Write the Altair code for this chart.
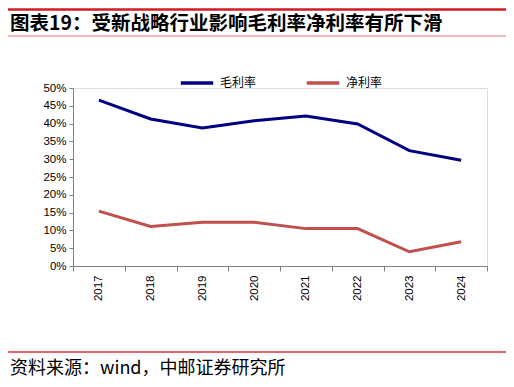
import altair as alt
import pandas as pd

years = ["2017", "2018", "2019", "2020", "2021", "2022", "2023", "2024"]
gross_margin = [0.466, 0.413, 0.388, 0.408, 0.421, 0.399, 0.324, 0.297]
net_margin = [0.154, 0.111, 0.123, 0.123, 0.105, 0.105, 0.040, 0.068]
series_names = ["毛利率", "净利率"]
series_colors = ["#000080", "#C0504D"]
y_ticks = [0, 0.05, 0.10, 0.15, 0.20, 0.25, 0.30, 0.35, 0.40, 0.45, 0.50]
title_text = "图表19：受新战略行业影响毛利率净利率有所下滑"
source_text = "资料来源：wind，中邮证券研究所"

rows = []
for name, vals in zip(series_names, [gross_margin, net_margin]):
    for yr, v in zip(years, vals):
        rows.append({"year": yr, "value": v, "series": name})
df = pd.DataFrame(rows)

W, H = 414, 178
PL, PT = 65, 80

lines = alt.Chart(df).mark_line(strokeWidth=3, strokeCap="butt").encode(
    x=alt.X("year:N", sort=years, title=None,
            scale=alt.Scale(paddingInner=0, paddingOuter=0),
            axis=alt.Axis(labelAngle=-90, labelAlign="right", labelBaseline="middle",
                          tickBand="extent", tickSize=5, labelPadding=4,
                          domainColor="#7f7f7f", tickColor="#7f7f7f",
                          labelFont="Liberation Sans", labelFontSize=11.5,
                          labelColor="#000000", grid=False)),
    y=alt.Y("value:Q", title=None,
            scale=alt.Scale(domain=[0, 0.5], nice=False, zero=True),
            axis=alt.Axis(values=y_ticks, format=".0%", tickSize=4, labelPadding=3,
                          domainColor="#7f7f7f", tickColor="#7f7f7f",
                          labelFont="Liberation Sans", labelFontSize=11.5,
                          labelColor="#000000", grid=False)),
    color=alt.Color("series:N", title=None,
                    scale=alt.Scale(domain=series_names, range=series_colors),
                    legend=alt.Legend(orient="none", legendX=106, legendY=-23,
                                      direction="horizontal", symbolType="stroke",
                                      symbolSize=1050, symbolStrokeWidth=3.5,
                                      labelFont="Noto Sans CJK SC", labelFontSize=12,
                                      labelColor="#000000", labelOffset=5,
                                      columnPadding=42)),
)

one = pd.DataFrame({"a": [0]})

top_rule = alt.Chart(one).mark_rule(color="#D01C24", strokeWidth=2.6).encode(
    x=alt.value(-65), x2=alt.value(433), y=alt.value(-78.5))
thin_rule = alt.Chart(one).mark_rule(color="#E8707A", strokeWidth=1).encode(
    x=alt.value(-65), x2=alt.value(433), y=alt.value(-52))
bottom_rule = alt.Chart(one).mark_rule(color="#E0303A", strokeWidth=1.5).encode(
    x=alt.value(-65), x2=alt.value(433), y=alt.value(264))

title = alt.Chart(one).mark_text(
    text=title_text, align="left", baseline="middle", font="Noto Sans CJK SC",
    fontWeight="bold", fontSize=19.5, color="#000000").encode(
    x=alt.value(-63), y=alt.value(-64))

source = alt.Chart(one).mark_text(
    text=source_text, align="left", baseline="middle", font="Noto Sans CJK SC",
    fontSize=18, color="#000000").encode(
    x=alt.value(-63), y=alt.value(281))

chart = alt.layer(lines, top_rule, thin_rule, bottom_rule, title, source).properties(
    width=W, height=H,
    autosize=alt.AutoSizeParams(type="none"),
    padding={"left": PL, "top": PT, "right": 19, "bottom": 113},
).configure_view(stroke=None).configure(background="#ffffff")

chart.save("out.html", embed_options={"renderer": "svg", "actions": False})
